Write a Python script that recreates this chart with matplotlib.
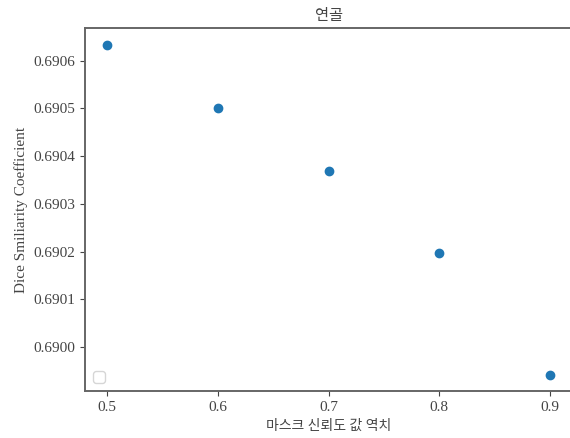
import matplotlib
matplotlib.use("Agg")
import matplotlib.pyplot as plt

# threshold vs dice score
thresholds = [0.5, 0.6, 0.7, 0.8, 0.9]
dice_scores = [0.690634, 0.690500, 0.690368, 0.690198, 0.689942]

plt.rcParams['font.family'] = ['Liberation Serif', 'Noto Sans CJK KR']
plt.rcParams['font.size'] = 11
text_color = '#444444'
spine_color = '#666666'

fig = plt.figure(figsize=(5.7, 4.38), dpi=100)
ax = fig.add_axes([0.149, 0.107, 0.855, 0.829])

ax.scatter(thresholds, dice_scores, color='#1f77b4')

ax.set_title('연골', color=text_color, fontsize=11)
ax.set_xlabel('마스크 신뢰도 값 역치', color=text_color, fontsize=10)
ax.set_ylabel('Dice Smiliarity Coefficient', color=text_color, fontsize=11)
ax.set_xticks(thresholds)
ax.xaxis.set_major_formatter(plt.FormatStrFormatter('%.1f'))
ax.yaxis.set_major_formatter(plt.FormatStrFormatter('%.4f'))

for sp in ax.spines.values():
    sp.set_color(spine_color)
    sp.set_linewidth(1.4)
ax.tick_params(colors=text_color, labelcolor=text_color)

ax.legend(handles=[], loc='lower left')

fig.savefig('out.png', dpi=100)
